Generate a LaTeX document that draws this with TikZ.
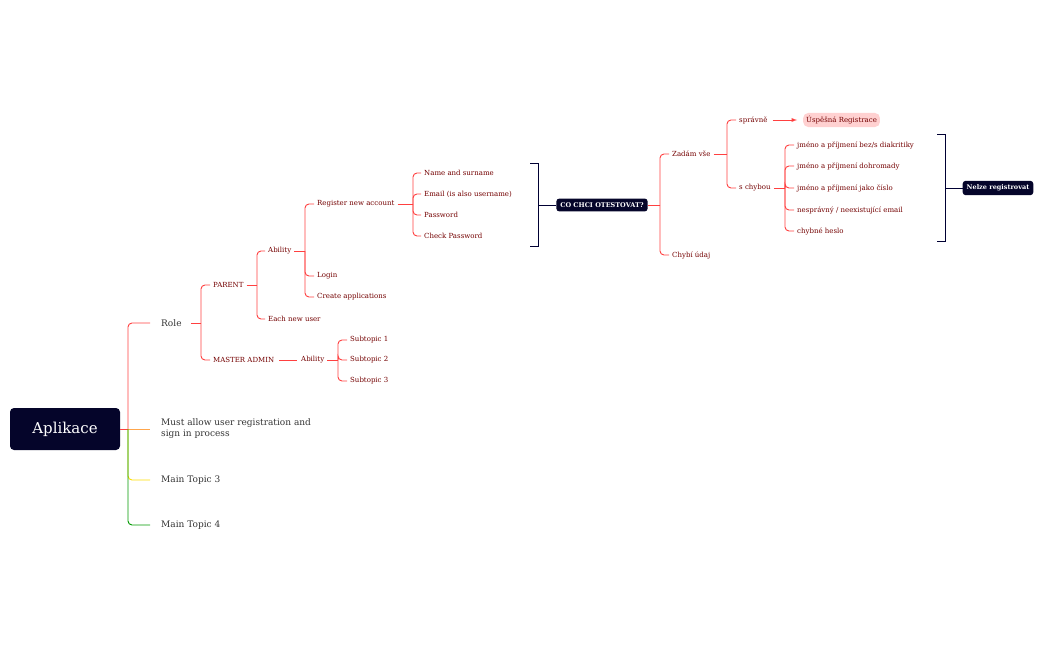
\documentclass[tikz,border=0pt]{standalone}
\usepackage{fontspec}
\setmainfont{DejaVu Serif}
\begin{document}
\begin{tikzpicture}[x=1pt,y=-1pt,
  rl/.style={draw=red!75!white,line width=0.9pt,rounded corners=4pt},
  leaf/.style={anchor=west,inner sep=1pt,font=\fontsize{7}{8}\selectfont,text=red!45!black},
  main/.style={anchor=west,inner sep=1pt,font=\fontsize{9}{11}\selectfont,text=black!80,align=left},
  dark/.style={fill=black!80!blue!90!black,fill=black!85!blue,text=white,rounded corners=3pt,font=\bfseries\fontsize{6.5}{8}\selectfont,inner sep=4pt},
  br/.style={draw=black!80!blue,line width=1pt}]
\useasboundingbox (0,0) rectangle (1049,650);
\definecolor{navy}{HTML}{05052A}
% root
\node[fill=navy,text=white,rounded corners=4pt,minimum width=110pt,minimum height=42pt,font=\fontsize{15}{18}\selectfont] (app) at (65,429) {Aplikace};
\node[main] (role) at (160,323) {Role};
\node[main] (must) at (160,429) {Must allow user registration and\\sign in process};
\node[main] (m3) at (160,480) {Main Topic 3};
\node[main] (m4) at (160,525) {Main Topic 4};
\coordinate (t0) at (128,429);
\draw[rl] (app.east) -- (t0);
\draw[rl] (t0) |- ([xshift=-10pt]role.west);
\draw[rl,draw=orange!70] (t0) -- ([xshift=-10pt]must.west);
\draw[rl,draw=yellow!80!orange] (t0) |- ([xshift=-10pt]m3.west);
\draw[rl,draw=green!60!black] (t0) |- ([xshift=-10pt]m4.west);
% Role
\node[leaf] (parent) at (212,285) {PARENT};
\node[leaf] (madmin) at (212,360) {MASTER ADMIN};
\coordinate (t1) at (201,323);
\draw[rl] ([xshift=8pt]role.east) -- (t1);
\draw[rl] (t1) |- ([xshift=-2pt]parent.west);
\draw[rl] (t1) |- ([xshift=-2pt]madmin.west);
% PARENT
\node[leaf] (ab1) at (267,251) {Ability};
\node[leaf] (each) at (267,319) {Each new user};
\coordinate (t2) at (257,285);
\draw[rl] ([xshift=2pt]parent.east) -- (t2);
\draw[rl] (t2) |- ([xshift=-2pt]ab1.west);
\draw[rl] (t2) |- ([xshift=-2pt]each.west);
% Ability
\node[leaf] (reg) at (316,204) {Register new account};
\node[leaf] (login) at (316,276) {Login};
\node[leaf] (create) at (316,297) {Create applications};
\coordinate (t3) at (305,251);
\draw[rl] ([xshift=2pt]ab1.east) -- (t3);
\foreach \c in {reg,login,create} \draw[rl] (t3) |- ([xshift=-2pt]\c.west);
% Register
\node[leaf] (n1) at (423,173) {Name and surname};
\node[leaf] (n2) at (423,194) {Email (is also username)};
\node[leaf] (n3) at (423,215) {Password};
\node[leaf] (n4) at (423,236) {Check Password};
\coordinate (t4) at (413,204);
\draw[rl] ([xshift=2pt]reg.east) -- (t4);
\foreach \c in {n1,n2,n3,n4} \draw[rl] (t4) |- ([xshift=-2pt]\c.west);
% bracket 1
\coordinate (b1a) at (530,163); \coordinate (b1b) at (530,246); \coordinate (b1m) at (538,205);
\draw[br] (b1a) -- (538,163) -- (538,246) -- (b1b);
\node[dark,fill=navy] (co) at (602,205) {CO CHCI OTESTOVAT?};
\draw[br] (b1m) -- (co.west);
% CO CHCI
\node[leaf] (zad) at (671,154) {Zadám vše};
\node[leaf] (chy) at (671,255) {Chybí údaj};
\coordinate (t5) at (660,205);
\draw[rl] (co.east) -- (t5);
\draw[rl] (t5) |- ([xshift=-2pt]zad.west);
\draw[rl] (t5) |- ([xshift=-2pt]chy.west);
% Zadam
\node[leaf] (spr) at (738,120) {správně};
\node[leaf] (sch) at (738,188) {s chybou};
\coordinate (t6) at (727,154);
\draw[rl] ([xshift=2pt]zad.east) -- (t6);
\draw[rl] (t6) |- ([xshift=-2pt]spr.west);
\draw[rl] (t6) |- ([xshift=-2pt]sch.west);
\node[leaf,fill=red!18,rounded corners=5pt,inner sep=3pt] (usp) at (803,120) {Úspěšná Registrace};
\draw[rl,-latex] ([xshift=4pt]spr.east) -- ([xshift=-6pt]usp.west);
% s chybou
\node[leaf] (e1) at (796,145) {jméno a příjmení bez/s diakritiky};
\node[leaf] (e2) at (796,166) {jméno a příjmení dohromady};
\node[leaf] (e3) at (796,188) {jméno a příjmení jako číslo};
\node[leaf] (e4) at (796,210) {nesprávný / neexistující email};
\node[leaf] (e5) at (796,231) {chybné heslo};
\coordinate (t7) at (785,188);
\draw[rl] ([xshift=2pt]sch.east) -- (t7);
\foreach \c in {e1,e2,e3,e4,e5} \draw[rl] (t7) |- ([xshift=-2pt]\c.west);
% bracket 2
\coordinate (b2a) at (937,135); \coordinate (b2b) at (937,241); \coordinate (b2m) at (945,188);
\draw[br] (b2a) -- (945,135) -- (945,241) -- (b2b);
\node[dark,fill=navy] (nel) at (998,188) {Nelze registrovat};
\draw[br] (b2m) -- (nel.west);
% MASTER ADMIN
\node[leaf] (ab2) at (300,360) {Ability};
\draw[rl] ([xshift=4pt]madmin.east) -- ([xshift=-3pt]ab2.west);
\node[leaf] (s1) at (349,340) {Subtopic 1};
\node[leaf] (s2) at (349,360) {Subtopic 2};
\node[leaf] (s3) at (349,381) {Subtopic 3};
\coordinate (t8) at (338,360);
\draw[rl] ([xshift=2pt]ab2.east) -- (t8);
\foreach \c in {s1,s2,s3} \draw[rl] (t8) |- ([xshift=-2pt]\c.west);
\end{tikzpicture}
\end{document}
